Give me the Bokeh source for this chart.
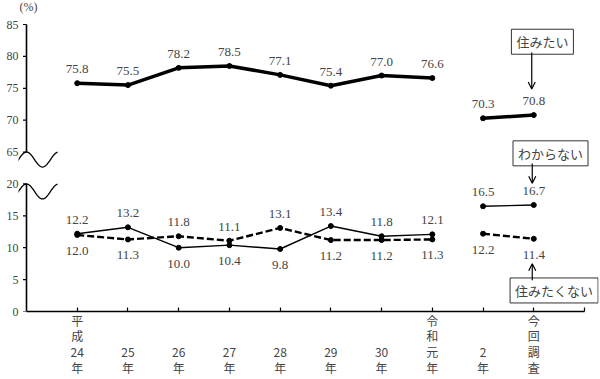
import math
from bokeh.plotting import figure
from bokeh.models import (Range1d, FixedTicker, ColumnDataSource, Label, Arrow, OpenHead,
                          BoxAnnotation, PolyAnnotation)
from bokeh.core.properties import value
from bokeh.embed import file_html
from bokeh.resources import INLINE

# ---------------- data ----------------
categories = ["平\n成\n24\n年", " \n \n25\n年", " \n \n26\n年", " \n \n27\n年", " \n \n28\n年",
              " \n \n29\n年", " \n \n30\n年", "令\n和\n元\n年", " \n \n2\n年", "今\n回\n調\n査"]
want_to_live = [75.8, 75.5, 78.2, 78.5, 77.1, 75.4, 77.0, 76.6, 70.3, 70.8]
dont_know = [12.2, 13.2, 10.0, 10.4, 9.8, 13.4, 11.8, 12.1, 16.5, 16.7]
not_want = [12.0, 11.3, 11.8, 11.1, 13.1, 11.2, 11.2, 11.3, 12.2, 11.4]
y_tick_values = [0, 5, 10, 15, 20, 65, 70, 75, 80, 85]
series_names = ["住みたい", "わからない", "住みたくない"]

# broken axis: values >= 65 are shifted down by 40 (65 -> 25)
BREAK_SHIFT = 40
def disp(v):
    return v - BREAK_SHIFT if v >= 65 else v

NUM_FONT = "Liberation Serif, Noto Sans CJK JP"
JP_FONT = "Noto Sans CJK JP"

# pixel scales (axis from x=26..584 for -1..10, y 311..24 for 0..45)
PX_X = 558 / 11
PX_Y = 287 / 45
FRAME_LEFT = 18
x_start = -1 - (26 - FRAME_LEFT) / PX_X
x_end = -1 + (598 - 26) / PX_X
y_end = 45 + 24 / PX_Y

p = figure(width=600, height=379, output_backend="svg", toolbar_location=None,
           x_range=Range1d(x_start, x_end), y_range=Range1d(0, y_end),
           min_border_left=FRAME_LEFT, min_border_top=0, min_border_right=2, min_border_bottom=68)
p.outline_line_color = None
p.grid.grid_line_color = None
p.background_fill_color = "white"

# ----- x axis -----
p.xaxis.ticker = FixedTicker(ticks=list(range(0, 11)))
p.xaxis.bounds = (-1, 10)
p.xaxis.major_label_overrides = {i: c for i, c in enumerate(categories)} | {10: ""}
p.xaxis.major_tick_in = 4
p.xaxis.major_tick_out = 0
p.xaxis.minor_tick_line_color = None
p.xaxis.axis_line_width = 1.5
p.xaxis.axis_line_color = "black"
p.xaxis.major_tick_line_width = 1.2
p.xaxis.major_label_text_font = JP_FONT
p.xaxis.major_label_text_font_size = "12px"
p.xaxis.major_label_text_color = "#444444"
p.xaxis.major_label_text_line_height = 0.94
p.xaxis.major_label_standoff = 0

# ----- y axis (labels from the axis, line/ticks drawn at x=-1) -----
disp_ticks = [disp(v) for v in y_tick_values]
p.yaxis.ticker = FixedTicker(ticks=disp_ticks)
p.yaxis.major_label_overrides = {d: str(v) for d, v in zip(disp_ticks, y_tick_values)}
p.yaxis.axis_line_color = None
p.yaxis.major_tick_line_color = None
p.yaxis.major_tick_out = 0
p.yaxis.major_tick_in = 0
p.yaxis.minor_tick_line_color = None
p.yaxis.major_label_text_font = NUM_FONT
p.yaxis.major_label_text_font_size = "12px"
p.yaxis.major_label_text_color = "#444444"
p.yaxis.major_label_standoff = 0

half = 0.8 / PX_X
for b, t in [(0, 20), (25, 45)]:
    p.add_layout(BoxAnnotation(left=-1 - half, right=-1 + half, bottom=b, top=t,
                               fill_color="black", fill_alpha=1, line_color=None))
tick_src = ColumnDataSource(dict(x0=[-1 - 3.5 / PX_X] * len(disp_ticks),
                                 x1=[-1] * len(disp_ticks), y=disp_ticks))
p.segment("x0", "y", "x1", "y", source=tick_src, color="black", line_width=1.2)

# break waves
for base in (20, 25):
    xs, ys = [], []
    for k in range(-9, 32):
        xs.append(-1 + k / PX_X)
        ys.append(base - 7.5 * (1 - math.cos(2 * math.pi * k / 32)) / PX_Y)
    p.add_layout(PolyAnnotation(xs=xs + xs[::-1], ys=ys + ys[::-1], fill_alpha=0,
                                line_color="black", line_alpha=1, line_width=1.3))

# ----- series -----
x_idx = list(range(len(categories)))
segments = [(0, 8), (8, 10)]
styles = [
    (want_to_live, dict(line_width=3.5, line_dash="solid")),
    (dont_know, dict(line_width=1.4, line_dash="solid")),
    (not_want, dict(line_width=2.4, line_dash="7 3")),
]
for vals, st in styles:
    for a, b in segments:
        src = ColumnDataSource(dict(x=x_idx[a:b], y=[disp(v) for v in vals[a:b]]))
        p.line("x", "y", source=src, color="black", **st)
        p.scatter("x", "y", source=src, size=5, color="black")

# ----- value labels -----
def add_labels(xs, vals, offsets):
    src = ColumnDataSource(dict(x=xs, y=[disp(v) for v in vals],
                                t=["%.1f" % v for v in vals], off=offsets))
    p.text("x", "y", text="t", source=src, y_offset="off", text_align="center",
           text_baseline="middle", text_font=value(NUM_FONT), text_font_size="13px",
           text_color="#444444")

add_labels(x_idx, want_to_live, [-14] * len(x_idx))
dk_off = [-14 if d >= n else 16 for d, n in zip(dont_know, not_want)]
nw_off = [-14 if n > d else 16 for d, n in zip(dont_know, not_want)]
add_labels(x_idx, dont_know, dk_off)
add_labels(x_idx, not_want, nw_off)

# ----- callout boxes -----
boxes = [(9.17, 42.3, series_names[0]), (9.33, 24.8, series_names[1]), (9.40, 3.3, series_names[2])]
for bx, by, name in boxes:
    p.add_layout(Label(x=bx, y=by, text=name, text_align="center", text_baseline="middle",
                       text_font=JP_FONT, text_font_size="13px", text_color="#444444",
                       border_line_color="#333333", border_line_width=1,
                       background_fill_color="white", padding=dict(x=5, y=3)))

arrows = [(8.96, 40.6, 8.96, 34.9), (8.97, 23.2, 8.97, 20.1), (8.97, 4.9, 8.97, 7.5)]
for x0, y0, x1, y1 in arrows:
    p.add_layout(Arrow(end=OpenHead(size=7, line_width=1.2, line_color="black"),
                       x_start=x0, y_start=y0, x_end=x1, y_end=y1,
                       line_color="black", line_width=1.2))

# unit label
p.add_layout(Label(x=-1 - 7 / PX_X, y=45 + 18 / PX_Y, text="(%)", text_align="left",
                   text_baseline="middle", text_font=NUM_FONT, text_font_size="12px",
                   text_color="#444444"))

open("out.html", "w").write(file_html(p, INLINE))
